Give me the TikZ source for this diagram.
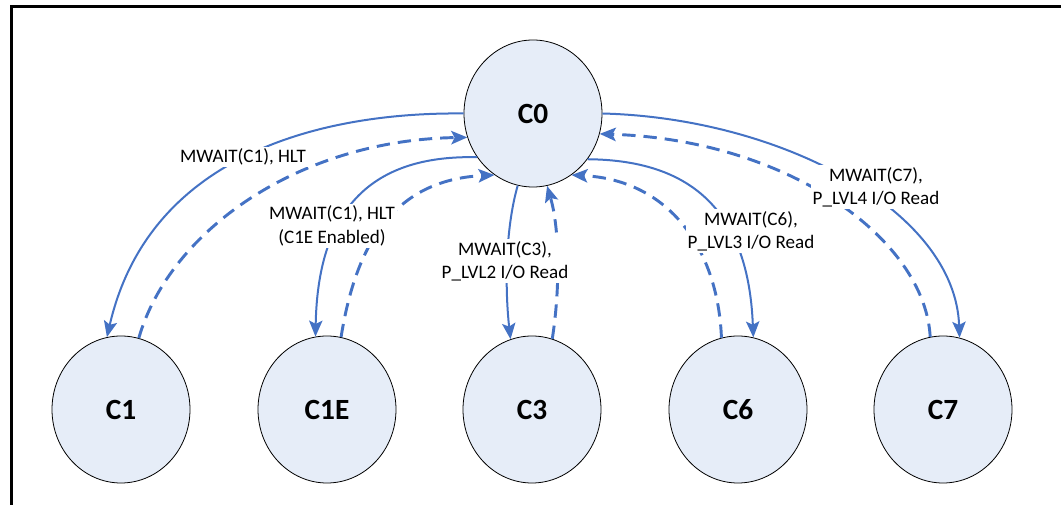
\documentclass[tikz,border=0pt]{standalone}
\usepackage{fontspec}
\setmainfont{Carlito}
\usepackage{xcolor}
\usetikzlibrary{arrows.meta,shapes.geometric}
\definecolor{cstatefill}{RGB}{230,237,248}
\definecolor{cstateblue}{RGB}{68,114,196}

\begin{document}
\begin{tikzpicture}[x=0.75pt,y=-0.75pt,>={Stealth[length=12pt,width=10pt,inset=2.5pt]},
  cstate/.style={ellipse,draw=black,line width=0.6pt,fill=cstatefill,
    minimum width=103.5pt,minimum height=110.25pt,inner sep=0pt,
    font=\fontsize{22}{26}\selectfont\bfseries},
  enter/.style={->,cstateblue,line width=1.5pt},
  wake/.style={->,cstateblue,line width=2.2pt,dash pattern=on 10pt off 6pt},
  trig/.style={fill=white,align=center,inner sep=1.5pt,
    font=\fontsize{14.3}{17.5}\selectfont}]
  \useasboundingbox (0,0) rectangle (1061,505);
  % frame
  \draw[line width=2.25pt] (11,510) -- (11,7) -- (1066,7);
  % states
  \node[cstate] (c0) at (533,113.5) {C0};
  \node[cstate] (c1) at (121,409.5) {C1};
  \node[cstate] (c1e) at (327,409.5) {C1E};
  \node[cstate] (c3) at (532,409.5) {C3};
  \node[cstate] (c6) at (738,409.5) {C6};
  \node[cstate] (c7) at (943,409.5) {C7};
  % entering the idle states
  \draw[enter] (c0.180) .. controls (330,112) and (150,150) .. (c1.101);
  \draw[enter] (c0.218) .. controls (380,155) and (318,200) .. (c1e.99);
  \draw[enter] (c0.258) .. controls (505,230) and (505,290) .. (c3.107);
  \draw[enter] (c0.320) .. controls (680,160) and (748,200) .. (c6.78);
  \draw[enter] (c0.0) .. controls (780,118) and (955,210) .. (c7.77);
  % going back to C0
  \draw[wake] (c1.76) .. controls (170,230) and (300,140) .. (c0.200);
  \draw[wake] (c1e.79) .. controls (355,250) and (390,180) .. (c0.238);
  \draw[wake] (c3.74) .. controls (560,290) and (560,230) .. (c0.281);
  \draw[wake] (c6.103) .. controls (718,250) and (670,180) .. (c0.302);
  \draw[wake] (c7.100) .. controls (925,240) and (790,140) .. (c0.343);
  % triggers
  \node[trig] (t1) at (243,157) {MWAIT(C1), HLT};
  \node[trig] (t1e) at (332,226) {MWAIT(C1), HLT\\(C1E Enabled)};
  \node[trig] (t3) at (505,261) {MWAIT(C3),\\P\_LVL2 I/O Read};
  \node[trig] (t6) at (751,231) {MWAIT(C6),\\P\_LVL3 I/O Read};
  \node[trig] (t7) at (876,187) {MWAIT(C7),\\P\_LVL4 I/O Read};
\end{tikzpicture}
\end{document}
